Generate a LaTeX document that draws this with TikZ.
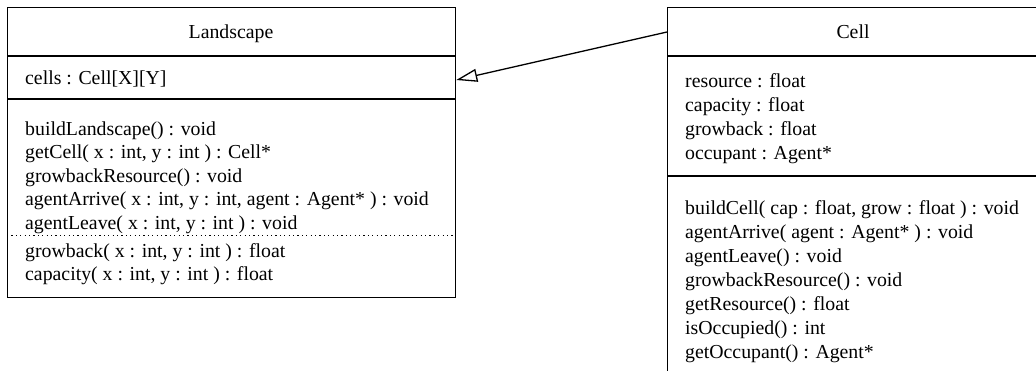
\documentclass[tikz,border=0pt]{standalone}
\usepackage{fontspec}
\setmainfont{Liberation Serif}
\usetikzlibrary{arrows.meta,calc}
\begin{document}
\begin{tikzpicture}[x=1pt,y=-1pt,
  classbox/.style={draw, line width=1.3pt, anchor=north west, inner sep=0pt},
  sep/.style={line width=1.3pt},
  dotsep/.style={line width=1.1pt, dash pattern=on 1.2pt off 3.2pt},
  txt/.style={anchor=base west, inner sep=0pt, font=\fontsize{19.8}{23}\selectfont},
  ttl/.style={anchor=base, inner sep=0pt, font=\fontsize{19.8}{23}\selectfont},
  inherit/.style={line width=1.3pt, -{Triangle[open, length=21pt, width=13pt, line width=1.3pt]}}]
\useasboundingbox (0,0) rectangle (1036,370);
\clip (0,0) rectangle (1036,370);

% Landscape class
\node[classbox, minimum width=448pt, minimum height=290pt] (land) at (7,7) {};
\draw[sep] (7,56) -- (455,56);
\draw[sep] (7,99) -- (455,99);
\draw[dotsep] (7,235.5) -- (455,235.5);
\node[ttl] (landtitle) at (231,38.5) {Landscape};
\node[txt] (landattr) at (25,84.5) {cells : Cell[X][Y]};
\foreach \t [count=\i] in {
  {buildLandscape() : void},
  {getCell( x : int, y : int ) : Cell*},
  {growbackResource() : void},
  {agentArrive( x : int, y : int, agent : Agent* ) : void},
  {agentLeave( x : int, y : int ) : void}}
  \node[txt] (landop\i) at (25,{135+23.5*(\i-1)}) {\t};
\node[txt] (landq1) at (25,257) {growback( x : int, y : int ) : float};
\node[txt] (landq2) at (25,280.5) {capacity( x : int, y : int ) : float};

% Cell class
\node[classbox, minimum width=372pt, minimum height=400pt] (cell) at (667,7) {};
\draw[sep] (667,56) -- (1040,56);
\draw[sep] (667,176) -- (1040,176);
\node[ttl] (celltitle) at (853,38.5) {Cell};
\foreach \t [count=\i] in {
  {resource : float},
  {capacity : float},
  {growback : float},
  {occupant : Agent*}}
  \node[txt] (cellattr\i) at (685,{87.5+24*(\i-1)}) {\t};
\foreach \t [count=\i] in {
  {buildCell( cap : float, grow : float ) : void},
  {agentArrive( agent : Agent* ) : void},
  {agentLeave() : void},
  {growbackResource() : void},
  {getResource() : float},
  {isOccupied() : int},
  {getOccupant() : Agent*}}
  \node[txt] (cellop\i) at (685,{214+24*(\i-1)}) {\t};

% generalisation arrow
\coordinate (cellport) at ($(cell.north west)+(0,25)$);
\coordinate (landport) at ($(land.north east)+(0,73)$);
\draw[inherit] (cellport) -- (landport);
\end{tikzpicture}
\end{document}
